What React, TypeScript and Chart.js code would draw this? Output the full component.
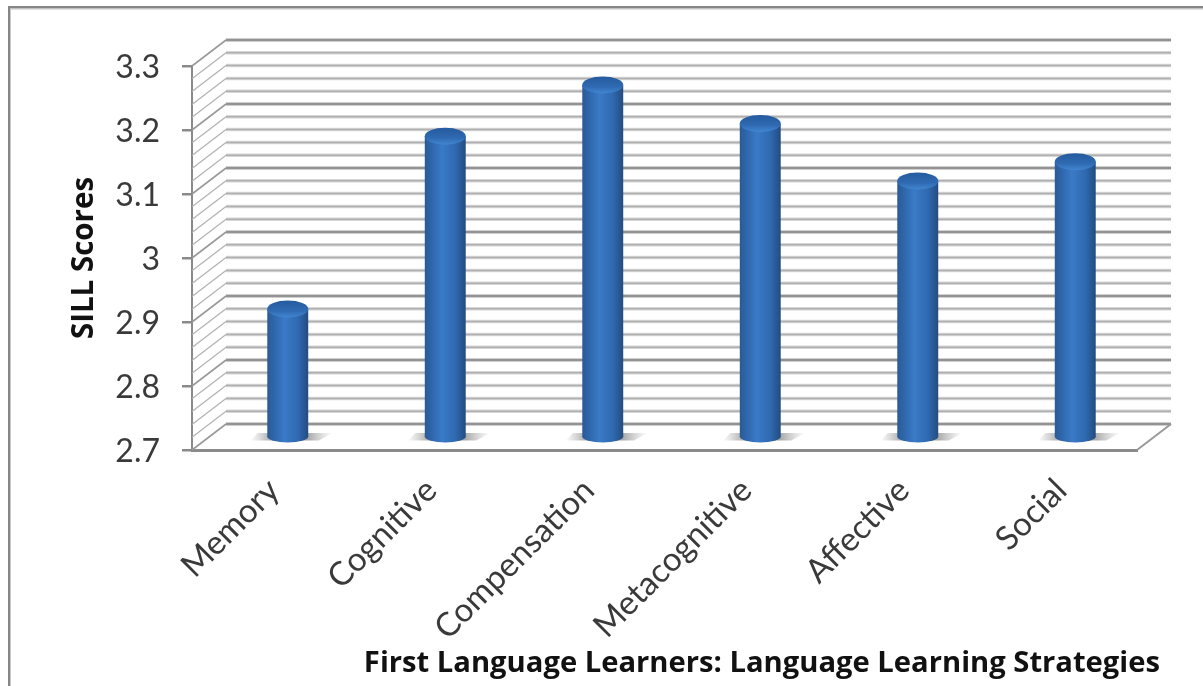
import React, { useEffect, useRef } from "react";
import { Chart, registerables } from "chart.js";

Chart.register(...registerables);

const categories = ["Memory", "Cognitive", "Compensation", "Metacognitive", "Affective", "Social"];
const scores = [2.9, 3.17, 3.25, 3.19, 3.1, 3.13];
const yMin = 2.7;
const yMax = 3.3;
const yStep = 0.1;
const minorPerMajor = 5;
const xTitle = "First Language Learners: Language Learning Strategies";
const yTitle = "SILL Scores";

const DX = 34;
const DY = -26;
const BAR_W = 41;
const LINE = "#8a8a8a";

const barGradient = (ctx: any, x: number) => {
  const g = ctx.createLinearGradient(x - BAR_W / 2, 0, x + BAR_W / 2, 0);
  g.addColorStop(0, "#2b5a94");
  g.addColorStop(0.12, "#2d63a6");
  g.addColorStop(0.42, "#3a7ac7");
  g.addColorStop(0.75, "#2f69b0");
  g.addColorStop(1, "#234c80");
  return g;
};

const scene = {
  id: "scene3d",
  beforeDraw(chart: any) {
    const { ctx } = chart;
    ctx.save();
    ctx.fillStyle = "#ffffff";
    ctx.fillRect(0, 0, chart.width, chart.height);
    ctx.fillStyle = "#868686";
    ctx.fillRect(8, 6, chart.width - 8, 2.5);
    ctx.fillRect(8, 6, 2.2, chart.height - 6);
    ctx.fillStyle = "#c4c4c4";
    ctx.fillRect(10, 8.5, chart.width - 10, 1);
    ctx.fillRect(10.2, 8.5, 0.8, chart.height - 8);
    ctx.restore();
  },
  beforeDatasetsDraw(chart: any) {
    const { ctx, chartArea: a, scales } = chart;
    const y = scales.y;
    ctx.save();
    const n = Math.round((yMax - yMin) / yStep) * minorPerMajor;
    for (let i = 0; i <= n; i++) {
      const v = yMin + (i * yStep) / minorPerMajor;
      const py = y.getPixelForValue(v);
      const major = i % minorPerMajor === 0;
      ctx.beginPath();
      ctx.moveTo(a.left, py);
      ctx.lineTo(a.left + DX, py + DY);
      ctx.strokeStyle = major ? "#9a9a9a" : "#b4b4b4";
      ctx.lineWidth = major ? 1.6 : 1.3;
      ctx.stroke();
      ctx.beginPath();
      ctx.moveTo(a.left + DX, py + DY);
      ctx.lineTo(a.right + DX, py + DY);
      ctx.strokeStyle = major ? "rgba(130,130,130,0.5)" : "rgba(175,175,175,0.5)";
      ctx.lineWidth = 3.5;
      ctx.stroke();
      ctx.strokeStyle = major ? "#858585" : "#b0b0b0";
      ctx.lineWidth = 1.5;
      ctx.stroke();
    }
    // right floor edge
    ctx.beginPath();
    ctx.moveTo(a.right, a.bottom);
    ctx.lineTo(a.right + DX, a.bottom + DY);
    ctx.strokeStyle = "#9a9a9a";
    ctx.lineWidth = 2;
    ctx.stroke();
    ctx.restore();
  },
  beforeDatasetDraw(chart: any, args: any) {
    const { ctx, chartArea: a } = chart;
    const meta = chart.getDatasetMeta(args.index);
    ctx.save();
    // contact shadows on the floor
    meta.data.forEach((bar: any) => {
      const cx = bar.x + DX / 2;
      const by = a.bottom + DY / 2;
      const g = ctx.createLinearGradient(cx - 38, 0, cx + 45, 0);
      g.addColorStop(0, "rgba(130,130,130,0)");
      g.addColorStop(0.28, "rgba(100,100,100,0.6)");
      g.addColorStop(0.68, "rgba(100,100,100,0.6)");
      g.addColorStop(1, "rgba(130,130,130,0)");
      ctx.beginPath();
      ctx.moveTo(cx - 37, by + 3.5);
      ctx.lineTo(cx - 30, by - 4);
      ctx.lineTo(cx + 45, by - 4);
      ctx.lineTo(cx + 31, by + 3.5);
      ctx.closePath();
      ctx.fillStyle = g;
      ctx.fill();
    });
    ctx.translate(DX / 2, DY / 2);
  },
  afterDatasetDraw(chart: any, args: any) {
    const { ctx, scales } = chart;
    const meta = chart.getDatasetMeta(args.index);
    const basePx = scales.y.getPixelForValue(yMin);
    meta.data.forEach((bar: any) => {
      // rounded foot of the cylinder
      ctx.beginPath();
      ctx.ellipse(bar.x, basePx - 0.5, BAR_W / 2, 6, 0, 0, Math.PI);
      ctx.fillStyle = barGradient(ctx, bar.x);
      ctx.fill();
      // cap of the cylinder
      const g = ctx.createLinearGradient(0, bar.y - 8.5, 0, bar.y + 8.5);
      g.addColorStop(0, "#255a9e");
      g.addColorStop(0.6, "#2f6ab2");
      g.addColorStop(1, "#4286d2");
      ctx.beginPath();
      ctx.ellipse(bar.x, bar.y, BAR_W / 2, 8.5, 0, 0, Math.PI * 2);
      ctx.fillStyle = g;
      ctx.fill();
    });
    ctx.restore();
  },
  afterDraw(chart: any) {
    const { ctx } = chart;
    ctx.save();
    ctx.font = "bold 29.2px 'Open Sans'";
    ctx.fillStyle = "#111111";
    ctx.textAlign = "right";
    ctx.textBaseline = "middle";
    ctx.fillText(xTitle, 1160, 664);
    ctx.restore();
  },
};

export default function App() {
  const ref = useRef<HTMLCanvasElement>(null);
  useEffect(() => {
    const chart = new Chart(ref.current as HTMLCanvasElement, {
      type: "bar",
      data: {
        labels: categories,
        datasets: [
          {
            label: yTitle,
            data: scores,
            barPercentage: 0.26,
            categoryPercentage: 1,
            borderWidth: 0,
            backgroundColor: (c: any) => {
              const x = c.type === "data" ? c.chart.scales?.x?.getPixelForValue(c.dataIndex) : NaN;
              return Number.isFinite(x) ? barGradient(c.chart.ctx, x) : "#3672bb";
            },
          },
        ],
      },
      options: {
        responsive: false,
        animation: false,
        layout: { padding: { top: 66, right: 66, left: 0, bottom: 0 } },
        plugins: { legend: { display: false }, tooltip: { enabled: false } },
        scales: {
          x: {
            afterFit: (s: any) => { s.height = 236; },
            grid: { display: true, drawOnChartArea: false, drawTicks: false },
            border: { color: LINE, width: 3 },
            ticks: {
              minRotation: 45,
              maxRotation: 45,
              padding: 21,
              labelOffset: 3,
              autoSkip: false,
              color: "#3a3a3a",
              font: { family: "Lato", size: 33 },
            },
          },
          y: {
            min: yMin,
            max: yMax,
            afterFit: (s: any) => { s.width = 192; },
            grid: { drawOnChartArea: false, color: LINE, lineWidth: 2.5, tickLength: 10 },
            border: { color: LINE, width: 2 },
            ticks: {
              stepSize: yStep,
              padding: 22,
              labelOffset: 2,
              color: "#3a3a3a",
              font: { family: "Lato", size: 32 },
              callback: (v: any) => String(Number(Number(v).toFixed(1))),
            },
            title: {
              display: true,
              text: yTitle,
              color: "#111111",
              font: { family: "'Open Sans'", size: 29.5, weight: "bold" },
              padding: { top: 67, bottom: 0 },
            },
          },
        },
      },
      plugins: [scene],
    } as any);
    return () => chart.destroy();
  }, []);
  return (
    <div style={{ position: "fixed", left: 0, top: 0, width: 1203, height: 686, background: "#fff" }}>
      <canvas ref={ref} width={1203} height={686} style={{ display: "block", filter: "blur(0.7px)" }} />
    </div>
  );
}
